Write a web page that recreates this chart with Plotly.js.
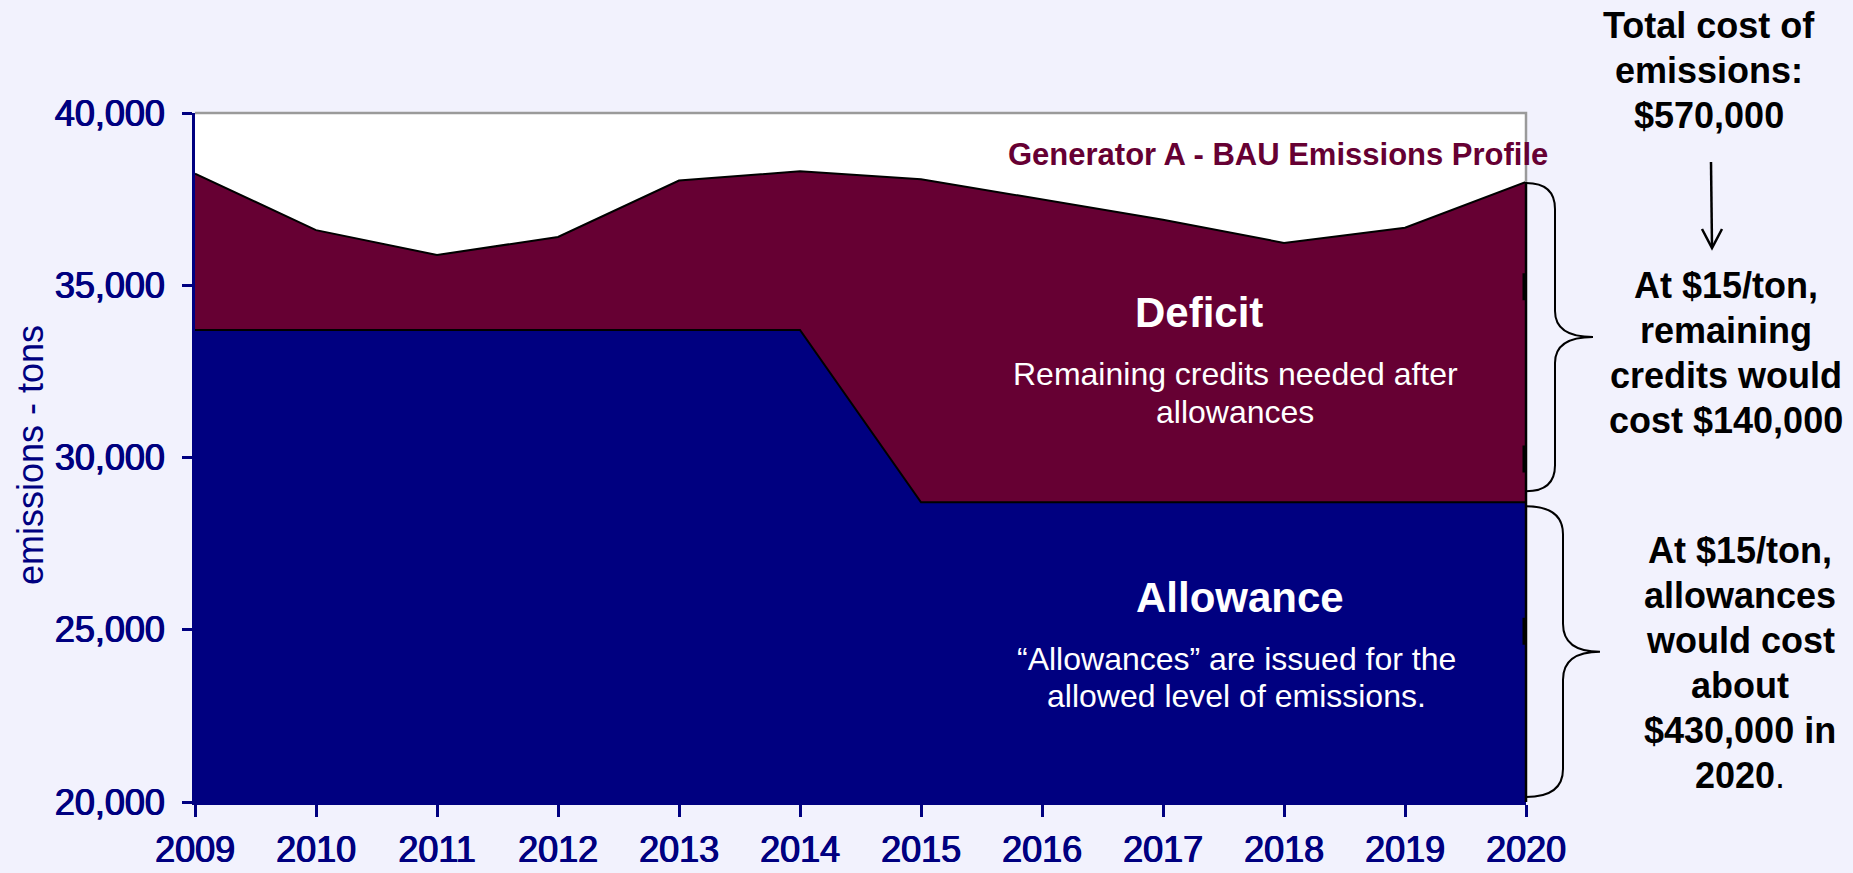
<!DOCTYPE html>
<html><head><meta charset="utf-8">
<script src="https://cdn.plot.ly/plotly-3.0.1.min.js"></script>
<style>html,body{margin:0;padding:0;background:#F2F2FD;overflow:hidden}#chart{width:1853px;height:873px}</style>
</head><body><div id="chart"></div>
<script>
// ---- data ----
const years = [2009, 2010, 2011, 2012, 2013, 2014, 2015, 2016, 2017, 2018, 2019, 2020];
const bauEmissions = [38240, 36600, 35880, 36400, 38040, 38310, 38080, 37500, 36900, 36230, 36670, 38000];
const allowances = [33700, 33700, 33700, 33700, 33700, 33700, 28700, 28700, 28700, 28700, 28700, 28700];
const yTickVals = [20000, 25000, 30000, 35000, 40000];
const yTickText = ['20,000', '25,000', '30,000', '35,000', '40,000'];
const xTickText = ['2009', '2010', '2011', '2012', '2013', '2014', '2015', '2016', '2017', '2018', '2019', '2020'];
const yMin = 20000, yMax = 40000;

// ---- geometry helpers ----
const W = 1853, H = 873, ML = 195, MR = 327, MT = 113, MB = 71;
const PW = W - ML - MR, PH = H - MT - MB;
const pxX = x => (x - ML) / PW;            // pixel -> paper x
const pxY = y => (H - MB - y) / PH;        // pixel -> paper y
const vY = v => (v - yMin) / (yMax - yMin); // value -> paper y
const vPx = v => H - MB - vY(v) * PH;      // value -> pixel y

const FONT = 'Liberation Sans, Arial, sans-serif';
const NAVY = '#000080', MAROON = '#660033';

const traces = [
  {x: years, y: allowances, type: 'scatter', mode: 'lines', fill: 'tozeroy',
   fillcolor: NAVY, line: {color: '#000000', width: 2}, name: 'Allowance', hoverinfo: 'skip'},
  {x: years, y: bauEmissions, type: 'scatter', mode: 'lines', fill: 'tonexty',
   fillcolor: MAROON, line: {color: '#000000', width: 2}, name: 'BAU', hoverinfo: 'skip'}
];

function brace(yt, yb, xs, xt, r) {
  const x0 = ML + PW, ym = (yt + yb) / 2;
  const P = (x, y) => pxX(x) + ',' + pxY(y);
  return 'M' + P(x0, yt) + ' Q' + P(xs, yt) + ' ' + P(xs, yt + r) +
         ' L' + P(xs, ym - r) + ' Q' + P(xs, ym) + ' ' + P(xt, ym) +
         ' Q' + P(xs, ym) + ' ' + P(xs, ym + r) +
         ' L' + P(xs, yb - r) + ' Q' + P(xs, yb) + ' ' + P(x0, yb);
}

const lastBau = bauEmissions[bauEmissions.length - 1];
const lastAllow = allowances[allowances.length - 1];

const shapes = [
  {type: 'path', xref: 'paper', yref: 'paper', path: 'M0,1 L1,1 L1,' + vY(lastBau),
   line: {color: '#9a9a9a', width: 2.5}},
  {type: 'line', xref: 'paper', yref: 'paper', x0: 1, x1: 1, y0: vY(lastBau), y1: 0,
   line: {color: '#000000', width: 2.5}},
  {type: 'path', xref: 'paper', yref: 'paper', path: brace(vPx(lastBau) + 1, vPx(lastAllow) - 11, 1555, 1593, 26),
   line: {color: '#000000', width: 2}},
  {type: 'path', xref: 'paper', yref: 'paper', path: brace(vPx(lastAllow) + 4, vPx(yMin) - 5, 1563, 1600, 28),
   line: {color: '#000000', width: 2}},
  {type: 'line', xref: 'paper', yref: 'paper', x0: pxX(1711), x1: pxX(1712), y0: pxY(162), y1: pxY(247),
   line: {color: '#000000', width: 2.5}},
  {type: 'path', xref: 'paper', yref: 'paper',
   path: 'M' + pxX(1702) + ',' + pxY(229) + ' L' + pxX(1712) + ',' + pxY(248) + ' L' + pxX(1722) + ',' + pxY(229),
   line: {color: '#000000', width: 2.5}}
];
[25000, 30000, 35000].forEach(v => {
  shapes.push({type: 'line', xref: 'paper', yref: 'paper', x0: pxX(ML + PW - 2), x1: pxX(ML + PW - 2),
    y0: pxY(vPx(v) - 12), y1: pxY(vPx(v) + 15), line: {color: '#000000', width: 3}});
});

// annotation helper: x centre, baseline y (pixels)
const ann = (x, base, text, size, color, extra) => Object.assign({
  xref: 'paper', yref: 'paper', x: pxX(x), y: pxY(base - 0.3465 * size), text: text, showarrow: false,
  xanchor: 'center', yanchor: 'middle', align: 'center',
  font: {family: FONT, size: size, color: color}
}, extra || {});

const block = (x, baselines, lines, size, color) =>
  lines.map((t, i) => ann(x, baselines[i], t, size, color));

const annotations = [
  ann(1278, 165, '<b>Generator A - BAU Emissions Profile</b>', 31, MAROON),
  ann(1199, 327, '<b>Deficit</b>', 42, '#ffffff'),
  ...block(1235, [385, 423], ['Remaining credits needed after', 'allowances'], 32, '#ffffff'),
  ann(1240, 612, '<b>Allowance</b>', 42, '#ffffff'),
  ...block(1236, [670, 707], ['\u201cAllowances\u201d are issued for the', 'allowed level of emissions.'], 32, '#ffffff'),
  ...block(1709, [38, 83, 128], ['<b>Total cost of</b>', '<b>emissions:</b>', '<b>$570,000</b>'], 36, '#000000'),
  ...block(1726, [298, 343, 388, 433], ['<b>At $15/ton,</b>', '<b>remaining</b>', '<b>credits would</b>', '<b>cost $140,000</b>'], 36, '#000000'),
  ...block(1740, [563, 608, 653, 698, 743, 788], ['<b>At $15/ton,</b>', '<b>allowances</b>', '<b>would cost</b>', '<b>about</b>', '<b>$430,000 in</b>', '<b>2020</b>.'], 36, '#000000'),
  {xref: 'paper', yref: 'paper', x: pxX(30), y: pxY(455), text: 'emissions - tons', showarrow: false,
   xanchor: 'center', yanchor: 'middle', textangle: -90, font: {family: FONT, size: 36, color: NAVY}}
];

const tickFont = {family: FONT, size: 36, color: NAVY,
  shadow: '0.7px 0px 0px ' + NAVY + ', -0.5px 0px 0px ' + NAVY};

const layout = {
  width: W, height: H,
  margin: {l: ML, r: MR, t: MT, b: MB, pad: 0},
  paper_bgcolor: '#F2F2FD', plot_bgcolor: '#ffffff',
  showlegend: false,
  font: {family: FONT},
  xaxis: {range: [years[0], years[years.length - 1]], tickvals: years, ticktext: xTickText,
    showgrid: false, zeroline: false, showline: true, linecolor: NAVY, linewidth: 3,
    ticks: 'outside', ticklen: 12, tickwidth: 3, tickcolor: NAVY, ticklabelstandoff: 2,
    tickfont: tickFont, fixedrange: true},
  yaxis: {range: [yMin, yMax], tickvals: yTickVals, ticktext: yTickText,
    showgrid: false, zeroline: false, showline: true, linecolor: NAVY, linewidth: 3,
    ticks: 'outside', ticklen: 10, tickwidth: 3, tickcolor: NAVY, ticklabelstandoff: 10,
    tickfont: tickFont, fixedrange: true},
  shapes: shapes,
  annotations: annotations
};

Plotly.newPlot('chart', traces, layout, {staticPlot: true, displayModeBar: false});
</script></body></html>
